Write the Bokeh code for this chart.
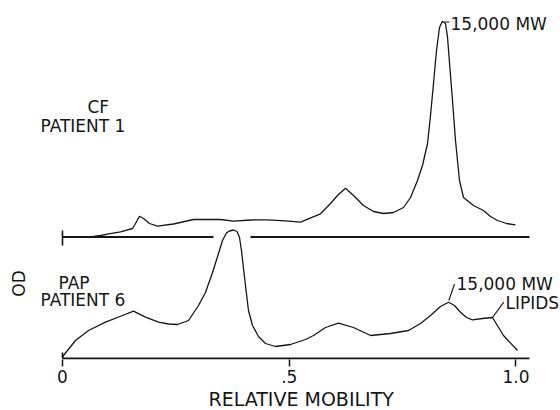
from bokeh.plotting import figure
from bokeh.models import Range1d, FixedTicker, Label, Title
from bokeh.embed import file_html
from bokeh.resources import INLINE

# ---------------- data ----------------
# CF patient 1 (upper densitometer trace): relative mobility vs OD above its own baseline
cf_mobility = [0.0617, 0.0838, 0.0992, 0.1279, 0.1544, 0.1610, 0.1698, 0.1786, 0.1918, 0.2095,
               0.2448, 0.2889, 0.3484, 0.3771, 0.4145, 0.4520, 0.4917, 0.5248, 0.5689, 0.5910,
               0.6064, 0.6240, 0.6417, 0.6637, 0.6858, 0.7078, 0.7299, 0.7519, 0.7674, 0.7828,
               0.7938, 0.8049, 0.8115, 0.8181, 0.8247, 0.8313, 0.8379, 0.8445, 0.8490, 0.8556,
               0.8600, 0.8666, 0.8754, 0.8842, 0.9063, 0.9283, 0.9438, 0.9592, 0.9790, 0.9989]
cf_od = [0.000, 0.015, 0.028, 0.052, 0.085, 0.135, 0.208, 0.185, 0.135, 0.108,
         0.130, 0.175, 0.175, 0.158, 0.170, 0.172, 0.162, 0.148, 0.232, 0.335,
         0.415, 0.488, 0.415, 0.315, 0.255, 0.235, 0.245, 0.295, 0.395, 0.565,
         0.715, 0.935, 1.215, 1.535, 1.865, 2.095, 2.158, 2.135, 1.998, 1.615,
         1.365, 0.965, 0.565, 0.395, 0.315, 0.265, 0.205, 0.165, 0.135, 0.122]

# PAP patient 6 (lower densitometer trace)
pap_mobility = [0.0000, 0.0022, 0.0287, 0.0573, 0.0948, 0.1323, 0.1566, 0.1830, 0.2117, 0.2337,
                0.2536, 0.2778, 0.2999, 0.3153, 0.3308, 0.3440, 0.3528, 0.3616, 0.3682, 0.3771,
                0.3848, 0.3903, 0.3947, 0.3991, 0.4035, 0.4101, 0.4190, 0.4322, 0.4476, 0.4697,
                0.5028, 0.5358, 0.5535, 0.5799, 0.6086, 0.6417, 0.6792, 0.7233, 0.7630, 0.7894,
                0.8115, 0.8335, 0.8512, 0.8644, 0.8776, 0.8908, 0.9041, 0.9261, 0.9482, 0.9724,
                1.0033]
pap_od = [0.005, 0.030, 0.180, 0.280, 0.363, 0.430, 0.473, 0.413, 0.363, 0.345,
          0.340, 0.380, 0.530, 0.660, 0.860, 1.050, 1.180, 1.255, 1.275, 1.285,
          1.270, 1.210, 1.080, 0.900, 0.730, 0.480, 0.330, 0.220, 0.150, 0.120,
          0.140, 0.190, 0.230, 0.310, 0.353, 0.310, 0.230, 0.250, 0.280, 0.350,
          0.430, 0.520, 0.563, 0.530, 0.463, 0.410, 0.387, 0.400, 0.410, 0.230,
          0.080]

tick_values = [0.0, 0.5, 1.0]
tick_labels = ["0", ".5", "1.0"]
x_title = "RELATIVE MOBILITY"

# ---------------- layout / style ----------------
CF_OFFSET = 1.215          # vertical offset of the upper trace's baseline (OD units)
BASE_END = 1.0298          # where the drawn baselines stop (relative mobility)
INK = "#161616"
FONT = "DejaVu Sans"
FS = "17px"

p = figure(width=560, height=410, output_backend="svg", toolbar_location=None,
           x_range=Range1d(-0.13671, 1.09813), y_range=Range1d(-0.01, 3.58),
           y_axis_location=None,
           min_border_left=0, min_border_right=0, min_border_top=0, min_border_bottom=51)
p.outline_line_color = None
p.xgrid.visible = False
p.ygrid.visible = False
p.background_fill_color = "white"
p.border_fill_color = "white"

# traces
p.line(cf_mobility, [v + CF_OFFSET for v in cf_od], line_color=INK, line_width=1.3)
p.line(pap_mobility, pap_od, line_color=INK, line_width=1.3)

# baselines: upper one broken where the lower peak passes through
p.segment(x0=[0.0, 0.4145, 0.0], y0=[CF_OFFSET, CF_OFFSET, 0.0],
          x1=[0.333, BASE_END, BASE_END], y1=[CF_OFFSET, CF_OFFSET, 0.0],
          line_color=INK, line_width=2.2)
# start bars of the baselines
p.segment(x0=[0.0, 0.0], y0=[CF_OFFSET - 0.085, 0.0], x1=[0.0, 0.0], y1=[CF_OFFSET + 0.065, 0.06],
          line_color=INK, line_width=1.6)

# leader lines of the annotations
p.segment(x0=[0.8423, 0.8518, 0.9488], y0=[3.365, 0.58, 0.413],
          x1=[0.8534, 0.8644, 0.9731], y1=[3.365, 0.745, 0.563],
          line_color=INK, line_width=1.1)

# bottom axis (its line is the lower baseline drawn above)
ax = p.xaxis[0]
ax.ticker = FixedTicker(ticks=tick_values)
ax.major_label_overrides = dict(zip(tick_values, tick_labels))
ax.axis_line_color = None
ax.major_tick_line_color = INK
ax.major_tick_line_width = 1.5
ax.major_tick_out = 7
ax.major_tick_in = 0
ax.minor_tick_line_color = None
ax.major_label_standoff = 3
ax.major_label_text_font = FONT
ax.major_label_text_font_size = FS
ax.major_label_text_color = INK

# axis title, placed under the axis (offset so that it is centred like the reference)
p.add_layout(Title(text=x_title, align="left", offset=208, standoff=0,
                   text_font=FONT, text_font_size="19px", text_font_style="normal",
                   text_color=INK), "below")


def lab(x, y, text, align="left", angle=0.0):
    p.add_layout(Label(x=x, y=y, text=text, text_font=FONT, text_font_size=FS,
                       text_color=INK, text_align=align, text_baseline="middle", angle=angle))


lab(0.0551, 2.52, "CF")
lab(-0.0485, 2.33, "PATIENT 1")
lab(-0.0088, 0.76, "PAP")
lab(-0.0485, 0.59, "PATIENT 6")
lab(-0.097, 0.75, "OD", align="center", angle=1.5708)
lab(0.8556, 3.35, "15,000 MW")
lab(0.8688, 0.747, "15,000 MW")
lab(0.9769, 0.56, "LIPIDS")

open("out.html", "w").write(file_html(p, INLINE))
